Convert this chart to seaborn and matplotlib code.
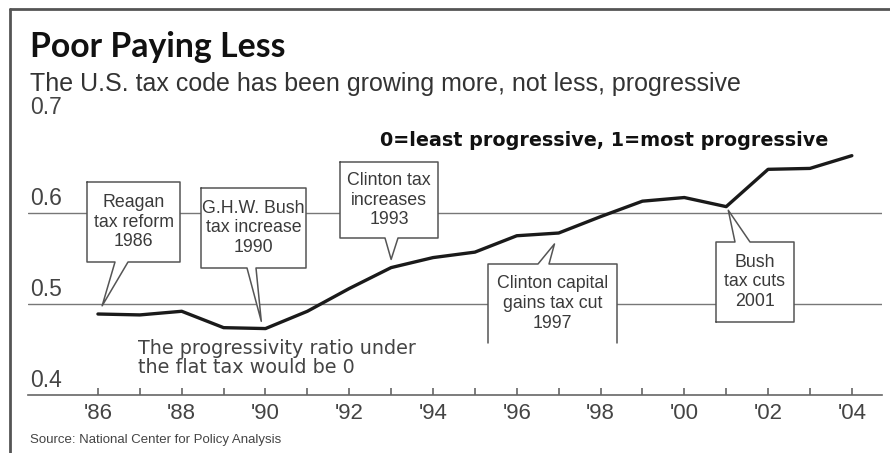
import numpy as np
import pandas as pd
import matplotlib
matplotlib.use("Agg")
import matplotlib.pyplot as plt
import seaborn as sns
from matplotlib.patches import Polygon
from matplotlib.lines import Line2D
from matplotlib.transforms import IdentityTransform

# ---- data ----
years = [1986, 1987, 1988, 1989, 1990, 1991, 1992, 1993, 1994, 1995,
         1996, 1997, 1998, 1999, 2000, 2001, 2002, 2003, 2004]
ratio = [0.489, 0.488, 0.492, 0.474, 0.473, 0.492, 0.517, 0.540, 0.551, 0.557,
         0.575, 0.578, 0.596, 0.613, 0.617, 0.607, 0.648, 0.649, 0.663]
tick_years = list(range(1986, 2005, 2))
tick_labels = ["'86", "'88", "'90", "'92", "'94", "'96", "'98", "'00", "'02", "'04"]
y_ticks = [0.4, 0.5, 0.6, 0.7]
y_tick_labels = ["0.4", "0.5", "0.6", "0.7"]

title = "Poor Paying Less"
subtitle = "The U.S. tax code has been growing more, not less, progressive"
scale_note = "0=least progressive, 1=most progressive"
flat_note = "The progressivity ratio under\nthe flat tax would be 0"
source = "Source: National Center for Policy Analysis"

# callouts: text, box (left, top, right, bottom) in px, pointer side, base x range, tip (year, value), closed
callouts = [
    ("Reagan\ntax reform\n1986", (87, 182, 180, 262), "bottom", (115, 128), (1986.1, 0.498), True),
    ("G.H.W. Bush\ntax increase\n1990", (201, 188, 306, 268), "bottom", (247, 256), (1989.9, 0.481), True),
    ("Clinton tax\nincreases\n1993", (340, 162, 438, 238), "bottom", (385, 398), (1993.0, 0.549), True),
    ("Clinton capital\ngains tax cut\n1997", (488, 264, 617, 343), "top", (538, 549), (1996.9, 0.566), False),
    ("Bush\ntax cuts\n2001", (716, 242, 794, 322), "top", (735, 750), (2001.05, 0.603), True),
]

W, H = 890, 453
sns.set_theme(style="white")
plt.rcParams['font.family'] = ['Liberation Sans', 'DejaVu Sans']

fig = plt.figure(figsize=(W / 100, H / 100), dpi=100)
ax = fig.add_axes([28 / W, 1 - 395 / H, 854 / W, 273 / H])

df = pd.DataFrame({"year": years, "ratio": ratio})
sns.lineplot(data=df, x="year", y="ratio", ax=ax, color="#1a1a1a", linewidth=2.4, zorder=5)

ax.set_xlim(1984.33, 2004.72)
ax.set_ylim(0.4, 0.7)
ax.set_xlabel("")
ax.set_ylabel("")
for s in ["top", "right", "left"]:
    ax.spines[s].set_visible(False)
ax.spines["bottom"].set_color("#666666")
ax.spines["bottom"].set_linewidth(1.2)
ax.set_yticks([])
ax.set_xticks(tick_years)
ax.set_xticklabels(tick_labels, fontsize=16, color="#444444")
ax.set_xticks(years, minor=True)
ax.tick_params(axis="x", which="both", direction="in", length=5, width=1.2,
               color="#666666", pad=6, bottom=True)

# gridlines at 0.5, 0.6
for yv in y_ticks[1:3]:
    ax.axhline(yv, color="#777777", linewidth=1.0, zorder=1)

def px(x, y):
    return (x, H - y)

# y labels sitting above their lines
for yv, lab in zip(y_ticks, y_tick_labels):
    dx, dy = ax.transData.transform((2000, yv))
    fig.text(30 / W, (dy + 3) / H, lab, fontsize=16.5, color="#444444", ha="left", va="bottom")

ident = IdentityTransform()
for text, (l, t, r, b), side, (bx0, bx1), (tx, ty), closed in callouts:
    tip = ax.transData.transform((tx, ty))
    tip_px = (tip[0], H - tip[1])
    if side == "bottom":
        pts = [(l, t), (r, t), (r, b), (bx1, b), tip_px, (bx0, b), (l, b)]
    else:
        pts = [(l, b), (l, t), (bx0, t), tip_px, (bx1, t), (r, t), (r, b)]
    disp = [px(*p) for p in pts]
    poly = Polygon(disp, closed=closed, facecolor="white", edgecolor="none",
                   transform=ident, zorder=3)
    fig.add_artist(poly)
    edge = disp + [disp[0]] if closed else disp
    xs, ys = zip(*edge)
    fig.add_artist(Line2D(xs, ys, color="#555555", linewidth=1.1, transform=ident, zorder=4))
    cx = (l + r) / 2
    cy = (t + min(b, t + 82)) / 2
    fig.text(cx / W, 1 - cy / H, text, fontsize=12.8, color="#3a3a3a", ha="center", va="center",
             linespacing=1.22, zorder=6)

# title texts
fig.text(30 / W, 1 - 47 / H, title, fontsize=24.3, fontweight="bold", color="#111111",
         family=["Lato", "DejaVu Sans"], va="center", ha="left")
fig.text(30 / W, 1 - 84 / H, subtitle, fontsize=18, color="#333333",
         va="center", ha="left")
fig.text(828 / W, 1 - 140 / H, scale_note, fontsize=13.8, fontweight="bold", color="#111111",
         family=["DejaVu Sans"], va="center", ha="right")
fig.text(138 / W, 1 - 358 / H, flat_note, fontsize=13.8, color="#444444",
         family=["DejaVu Sans"], va="center", ha="left", linespacing=1.0)
fig.text(30 / W, 1 - 440 / H, source, fontsize=9.5, color="#444444", va="center", ha="left")

# frame lines (left and top)
fig.add_artist(Line2D([10, 10], [0, H - 9], color="#555555", linewidth=2, transform=ident))
fig.add_artist(Line2D([10, W], [H - 9, H - 9], color="#555555", linewidth=2, transform=ident))

fig.savefig("out.png", dpi=100)
